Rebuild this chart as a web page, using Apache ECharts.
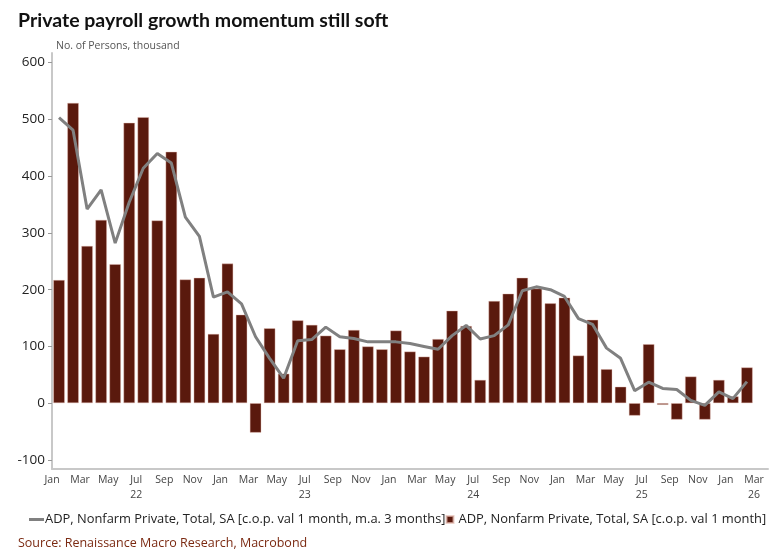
<!DOCTYPE html>
<html>
<head>
<meta charset="utf-8">
<script src="https://cdn.jsdelivr.net/npm/echarts@6/dist/echarts.min.js"></script>
<style>
html,body{margin:0;padding:0;background:#fff;}
#c{width:780px;height:554px;}
</style>
</head>
<body>
<div id="c"></div>
<script>
const monthNames = ['Jan','Feb','Mar','Apr','May','Jun','Jul','Aug','Sep','Oct','Nov','Dec'];
const years = [2022, 2023, 2024, 2025, 2026];
const yAxisTicks = [-100, 0, 100, 200, 300, 400, 500, 600];

// ADP, monthly change (thousand), Jan 2022 .. Mar 2026
const adpMonthly = [
  217, 529, 277, 323, 245, 494, 504, 322, 443, 218, 221, 122,
  246, 156, -52, 132, 52, 146, 138, 119, 95, 129, 100, 95,
  128, 91, 82, 113, 163, 136, 41, 180, 193, 221, 202, 176,
  186, 84, 147, 60, 29, -22, 104, -3, -29, 47, -29, 41,
  12, 63, null
];
// ADP, 3-month moving average
const adpMA3 = [
  503, 481, 342, 376, 282, 354, 414, 440, 423, 328, 294, 187,
  196, 175, 117, 79, 44, 110, 112, 134, 117, 114, 108, 108,
  108, 105, 100, 95, 119, 137, 113, 119, 138, 198, 205, 200,
  188, 149, 139, 97, 79, 22, 37, 26, 24, 5, -4, 20,
  8, 38, null
];

const categories = [];
years.forEach(y => {
  monthNames.forEach((m, i) => {
    if (y < 2026 || i < 3) categories.push(m + ' ' + String(y).slice(2));
  });
});

const nameMA = 'ADP, Nonfarm Private, Total, SA [c.o.p. val 1 month, m.a. 3 months]';
const nameM = 'ADP, Nonfarm Private, Total, SA [c.o.p. val 1 month]';
const FONT = 'Open Sans';

const chart = echarts.init(document.getElementById('c'), null, {renderer: 'canvas'});
chart.setOption({
  backgroundColor: '#ffffff',
  animation: false,
  title: [
    {text: 'Private payroll growth momentum still soft', left: 13, top: 6,
     textStyle: {fontFamily: 'Lato', fontWeight: 'bold', fontSize: 19.5, color: '#111'}},
    {text: 'No. of Persons, thousand', left: 51, top: 36,
     textStyle: {fontFamily: FONT, fontWeight: 'normal', fontSize: 10.5, color: '#555'}},
    {text: 'Source: Renaissance Macro Research, Macrobond', left: 13, top: 532,
     textStyle: {fontFamily: FONT, fontWeight: 'normal', fontSize: 12.5, color: '#7b2a12'}}
  ],
  legend: {
    left: 24, top: 508, itemGap: 0, itemWidth: 15, itemHeight: 7,
    textStyle: {fontFamily: FONT, fontSize: 12.9, color: '#222', padding: [0, 0, 0, -4]},
    data: [
      {name: nameMA, icon: 'path://M0,0h15v3h-15z', itemStyle: {color: '#808080'}},
      {name: nameM, icon: 'path://M0,0h10v10h-10z'}
    ]
  },
  grid: {left: 52, right: 12, top: 53, bottom: 85, containLabel: false},
  xAxis: {
    type: 'category',
    data: categories,
    boundaryGap: true,
    axisLine: {show: true, onZero: false, lineStyle: {color: '#c8c8c8', width: 2}},
    axisTick: {show: false},
    axisLabel: {
      interval: (idx) => idx % 2 === 0,
      showMinLabel: true, showMaxLabel: true, hideOverlap: false,
      margin: 4,
      fontFamily: FONT, fontSize: 10.5, color: '#444', lineHeight: 15,
      padding: [0, 7, 0, -7],
      formatter: (v, idx) => {
        const parts = v.split(' ');
        if (parts[0] === 'Jul' || idx === categories.length - 1) return parts[0] + '\n' + parts[1];
        return parts[0];
      }
    },
    splitLine: {show: false}
  },
  yAxis: {
    type: 'value',
    min: -116, max: 617,
    axisLine: {show: true, lineStyle: {color: '#c8c8c8', width: 2}},
    axisTick: {show: true, length: 4, customValues: yAxisTicks, lineStyle: {color: '#999'}},
    axisLabel: {customValues: yAxisTicks, margin: 7, fontFamily: FONT, fontSize: 13.5, color: '#222'},
    splitLine: {show: false}
  },
  series: [
    {
      name: nameM, type: 'bar', data: adpMonthly, barWidth: 11.5,
      itemStyle: {color: '#5a190d', borderColor: 'rgba(230,190,180,0.7)', borderWidth: 0.6},
      z: 2
    },
    {
      name: nameMA, type: 'line', data: adpMA3, showSymbol: false, symbol: 'none',
      lineStyle: {color: '#808080', width: 3}, itemStyle: {color: '#808080'},
      z: 5
    }
  ]
});
</script>
</body>
</html>
